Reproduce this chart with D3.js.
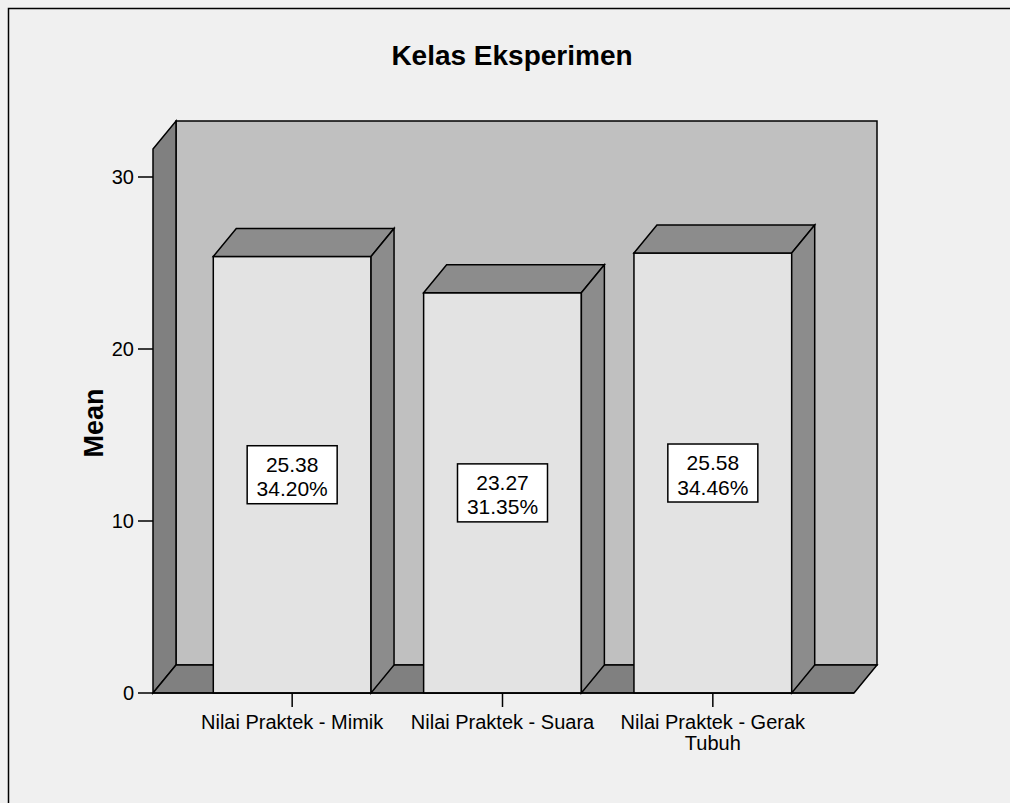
<!DOCTYPE html>
<html>
<head>
<meta charset="utf-8">
<script src="https://cdn.jsdelivr.net/npm/d3@7"></script>
<style>
  html, body { margin: 0; padding: 0; background: #f0f0f0; overflow: hidden; }
  svg { display: block; overflow: hidden; }
  text { font-family: "Liberation Sans", Arial, sans-serif; fill: #000; }
</style>
</head>
<body>
<svg id="chart" width="1010" height="803"></svg>
<script>
// ---- data ----
const categories = ["Nilai Praktek - Mimik", "Nilai Praktek - Suara", "Nilai Praktek - Gerak Tubuh"];
const categoryLines = [["Nilai Praktek - Mimik"], ["Nilai Praktek - Suara"], ["Nilai Praktek - Gerak", "Tubuh"]];
const means = [25.38, 23.27, 25.58];
const percents = ["34.20%", "31.35%", "34.46%"];
const yTicks = [0, 10, 20, 30];
const titleText = "Kelas Eksperimen";
const yLabel = "Mean";

// ---- layout ----
const svg = d3.select("#chart");
const W = 1010, H = 803;
const DX = 23, DY = -28;
const x0 = 153, x1 = 854;

svg.append("rect").attr("x", 0).attr("y", 0).attr("width", W).attr("height", H).attr("fill", "#f0f0f0");
// outer frame (left and top edges visible; right/bottom lie outside the picture)
svg.append("path").attr("d", `M8.5,${H} L8.5,8.5 L${W},8.5`)
  .attr("fill", "none").attr("stroke", "#000").attr("stroke-width", 1.5);

const y = d3.scaleLinear().domain([0, 30]).range([693, 177]);
const x = d3.scaleBand().domain(categories).range([187, 818]).padding(0);
const barW = x.bandwidth() * 0.75;

const stroke = { stroke: "#000", "stroke-width": 1.5, "stroke-linejoin": "miter" };
function poly(pts, fill) {
  const p = svg.append("polygon").attr("points", pts.map(d => d.join(",")).join(" ")).attr("fill", fill);
  Object.entries(stroke).forEach(([k, v]) => p.attr(k, v));
  return p;
}

const yb = y(0);
const wallTop = 121;
// back wall
poly([[x0 + DX, wallTop], [x1 + DX, wallTop], [x1 + DX, yb + DY], [x0 + DX, yb + DY]], "#c0c0c0");
// left wall
poly([[x0, wallTop - DY], [x0 + DX, wallTop], [x0 + DX, yb + DY], [x0, yb]], "#808080");
// floor
poly([[x0, yb], [x0 + DX, yb + DY], [x1 + DX, yb + DY], [x1, yb]], "#808080");

// y axis ticks
const yAxisG = svg.append("g");
yTicks.forEach(t => {
  yAxisG.append("line").attr("x1", 138).attr("x2", x0).attr("y1", y(t)).attr("y2", y(t))
    .attr("stroke", "#000").attr("stroke-width", 1.5);
  yAxisG.append("text").attr("x", 134).attr("y", y(t) + 7).attr("text-anchor", "end")
    .attr("font-size", 20).text(t);
});

// bars
categories.forEach((c, i) => {
  const bx = x(c) + (x.bandwidth() - barW) / 2;
  const by = y(means[i]);
  svg.append("rect").attr("x", bx).attr("y", by).attr("width", barW).attr("height", yb - by)
    .attr("fill", "#e3e3e3").attr("stroke", "#000").attr("stroke-width", 1.5);
  poly([[bx, by], [bx + DX, by + DY], [bx + barW + DX, by + DY], [bx + barW, by]], "#8c8c8c");
  poly([[bx + barW, by], [bx + barW + DX, by + DY], [bx + barW + DX, yb + DY], [bx + barW, yb]], "#8c8c8c");
});

// floor front edge
svg.append("line").attr("x1", x0).attr("x2", x1).attr("y1", yb).attr("y2", yb)
  .attr("stroke", "#000").attr("stroke-width", 1.5);

// category ticks and labels
categories.forEach((c, i) => {
  const cx = x(c) + x.bandwidth() / 2;
  svg.append("line").attr("x1", cx).attr("x2", cx).attr("y1", yb).attr("y2", yb + 14)
    .attr("stroke", "#000").attr("stroke-width", 1.5);
  const t = svg.append("text").attr("x", cx).attr("y", 729).attr("text-anchor", "middle").attr("font-size", 20);
  categoryLines[i].forEach((ln, j) => {
    t.append("tspan").attr("x", cx).attr("dy", j === 0 ? 0 : 21).text(ln);
  });
});

// value labels
categories.forEach((c, i) => {
  const cx = x(c) + x.bandwidth() / 2;
  const cy = (y(means[i]) + yb) / 2;
  svg.append("rect").attr("x", cx - 45).attr("y", cy - 29).attr("width", 90).attr("height", 58)
    .attr("fill", "#fff").attr("stroke", "#000").attr("stroke-width", 1.5);
  svg.append("text").attr("x", cx).attr("y", cy - 3).attr("text-anchor", "middle").attr("font-size", 21)
    .text(means[i].toFixed(2));
  svg.append("text").attr("x", cx).attr("y", cy + 21.5).attr("text-anchor", "middle").attr("font-size", 21)
    .text(percents[i]);
});

// title
svg.append("text").attr("x", 512).attr("y", 65).attr("text-anchor", "middle")
  .attr("font-size", 28).attr("font-weight", "bold").text(titleText);

// y label
svg.append("text").attr("transform", "translate(103,423) rotate(-90)").attr("text-anchor", "middle")
  .attr("font-size", 27).attr("font-weight", "bold").text(yLabel);
</script>
</body>
</html>
